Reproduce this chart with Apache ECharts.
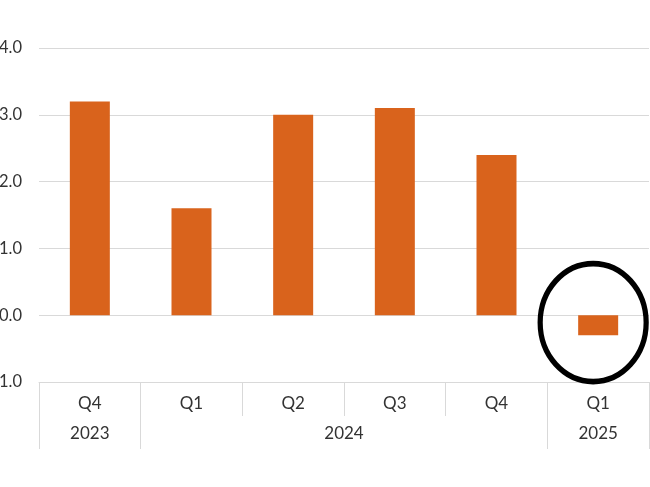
<!DOCTYPE html>
<html>
<head>
<meta charset="utf-8">
<script src="https://cdn.jsdelivr.net/npm/echarts@6/dist/echarts.min.js"></script>
<style>
html,body{margin:0;padding:0;background:#fff;}
#chart{width:650px;height:487px;}
</style>
</head>
<body>
<div id="chart"></div>
<script>
// ---- data ----
const quarters = ['Q4', 'Q1', 'Q2', 'Q3', 'Q4', 'Q1'];
const years = ['2023', '2024', '2024', '2024', '2024', '2025'];
const values = [3.2, 1.6, 3.0, 3.1, 2.4, -0.3];
const yTicks = [-1, 0, 1, 2, 3, 4];
// annotation: ring around the last quarter
const highlightIndex = 5;
const highlightValue = -0.11;

// ---- build ----
const keys = quarters.map((q, i) => q + ' ' + years[i]);
// year groups
const groups = [];
years.forEach((y, i) => {
  const last = groups[groups.length - 1];
  if (last && last.year === y) last.end = i + 1;
  else groups.push({ year: y, start: i, end: i + 1 });
});
const groupTicks = [0].concat(groups.map(g => g.end));
const groupCenters = groups.map(g => (g.start + g.end) / 2);

const gridColor = '#d9d9d9';
const textColor = '#333333';
const font = 'Lato, "Noto Sans", sans-serif';

const chart = echarts.init(document.getElementById('chart'), null, { renderer: 'canvas' });
chart.setOption({
  animation: false,
  backgroundColor: '#fff',
  grid: { left: 39, right: 1, top: 48, bottom: 105, containLabel: false, outerBoundsMode: 'none' },
  xAxis: [
    {
      type: 'category',
      data: keys,
      position: 'bottom',
      boundaryGap: true,
      axisLine: { show: true, onZero: false, lineStyle: { color: gridColor, width: 1 } },
      axisTick: { show: true, interval: 0, length: 34, lineStyle: { color: gridColor, width: 1 } },
      axisLabel: {
        interval: 0, margin: 13, fontSize: 17, color: textColor, fontFamily: font,
        formatter: v => v.split(' ')[0]
      },
      splitLine: { show: false }
    },
    {
      type: 'value',
      position: 'bottom',
      min: 0,
      max: quarters.length,
      axisLine: { show: false, onZero: false },
      axisTick: { show: true, customValues: groupTicks, length: 67, lineStyle: { color: gridColor, width: 1 } },
      axisLabel: {
        customValues: groupCenters, margin: 43, fontSize: 17, color: textColor, fontFamily: font,
        formatter: v => {
          const g = groups.find(g => Math.abs((g.start + g.end) / 2 - v) < 1e-6);
          return g ? g.year : '';
        }
      },
      splitLine: { show: false }
    }
  ],
  yAxis: {
    type: 'value',
    min: yTicks[0],
    max: yTicks[yTicks.length - 1],
    interval: 1,
    axisLine: { show: false },
    axisTick: { show: false },
    axisLabel: { margin: 17, fontSize: 16.5, color: textColor, fontFamily: font, formatter: v => v.toFixed(1) },
    splitLine: { show: true, lineStyle: { color: gridColor, width: 1 } }
  },
  series: [{
    type: 'bar',
    xAxisIndex: 0,
    yAxisIndex: 0,
    data: values,
    barWidth: 40,
    itemStyle: { color: '#D9631C' },
    markPoint: {
      symbol: 'circle',
      symbolSize: [106, 118],
      symbolOffset: [-5, 0],
      silent: true,
      label: { show: false },
      itemStyle: { color: 'rgba(0,0,0,0)', borderColor: '#000', borderWidth: 5.5 },
      data: [{ coord: [keys[highlightIndex], highlightValue] }]
    }
  }]
});
</script>
</body>
</html>
